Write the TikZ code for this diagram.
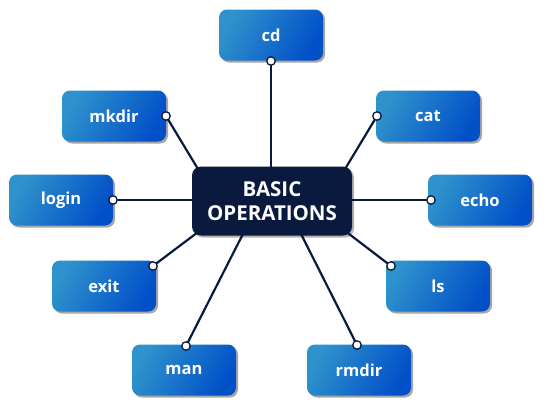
\documentclass[tikz,border=0pt]{standalone}
\usepackage{fontspec}
\setmainfont{Open Sans}
\usetikzlibrary{shadows}
\definecolor{boxA}{HTML}{2E92CC}
\definecolor{boxB}{HTML}{0250C8}
\definecolor{navy}{HTML}{0A1A3E}
\tikzset{
  cmdbox/.style={rectangle, rounded corners=8pt, minimum width=104pt, minimum height=51pt,
    left color=boxA, right color=boxB, shading angle=60, text=white, font=\fontsize{16.5}{19}\selectfont\bfseries,
    drop shadow={shadow xshift=2pt, shadow yshift=-2pt, opacity=0.35, fill=black}},
  hubbox/.style={rectangle, rounded corners=9pt, minimum width=160pt, minimum height=69pt,
    fill=navy, text=white, align=center, font=\fontsize{20.5}{24}\selectfont\bfseries,
    drop shadow={shadow xshift=2pt, shadow yshift=-2pt, opacity=0.3, fill=black}},
  link/.style={draw=navy, line width=2.2pt},
  dot/.style={circle, draw=navy, line width=1.3pt, fill=white, inner sep=0pt, minimum size=8.5pt}
}
\begin{document}
\begin{tikzpicture}[x=1pt,y=-1pt]
\useasboundingbox (0,0) rectangle (549,405);
% boxes
\node[cmdbox] (cd) at (271,35) {cd};
\node[cmdbox] (mkdir) at (114,116) {mkdir};
\node[cmdbox] (cat) at (428,116) {cat};
\node[cmdbox] (login) at (61,200) {login};
\node[cmdbox] (echo) at (480,200) {echo};
\node[cmdbox] (exit) at (104,286) {exit};
\node[cmdbox] (ls) at (438,286) {ls};
\node[cmdbox] (man) at (184,370) {man};
\node[cmdbox] (rmdir) at (359,370) {rmdir};
% hub anchor points
\coordinate (hcd) at (271,180);
\coordinate (hmkdir) at (204,179);
\coordinate (hcat) at (339,179);
\coordinate (hlogin) at (210,200);
\coordinate (hecho) at (335,200);
\coordinate (hexit) at (206,226);
\coordinate (hls) at (336,224);
\coordinate (hman) at (246,228);
\coordinate (hrmdir) at (298,228);
% dots
\coordinate (dcd) at (271,61);
\coordinate (dmkdir) at (166,116);
\coordinate (dcat) at (377,116);
\coordinate (dlogin) at (113,200);
\coordinate (decho) at (431,200);
\coordinate (dexit) at (153,266);
\coordinate (dls) at (391,266);
\coordinate (dman) at (186,346);
\coordinate (drmdir) at (357,345);
\foreach \n in {cd,mkdir,cat,login,echo,exit,ls,man,rmdir}{
  \draw[link] (h\n) -- (d\n);
}
\node[hubbox] (hub) at (272,201) {BASIC\\OPERATIONS};
\foreach \n in {cd,mkdir,cat,login,echo,exit,ls,man,rmdir}{
  \node[dot] (c\n) at (d\n) {};
}
\end{tikzpicture}
\end{document}
